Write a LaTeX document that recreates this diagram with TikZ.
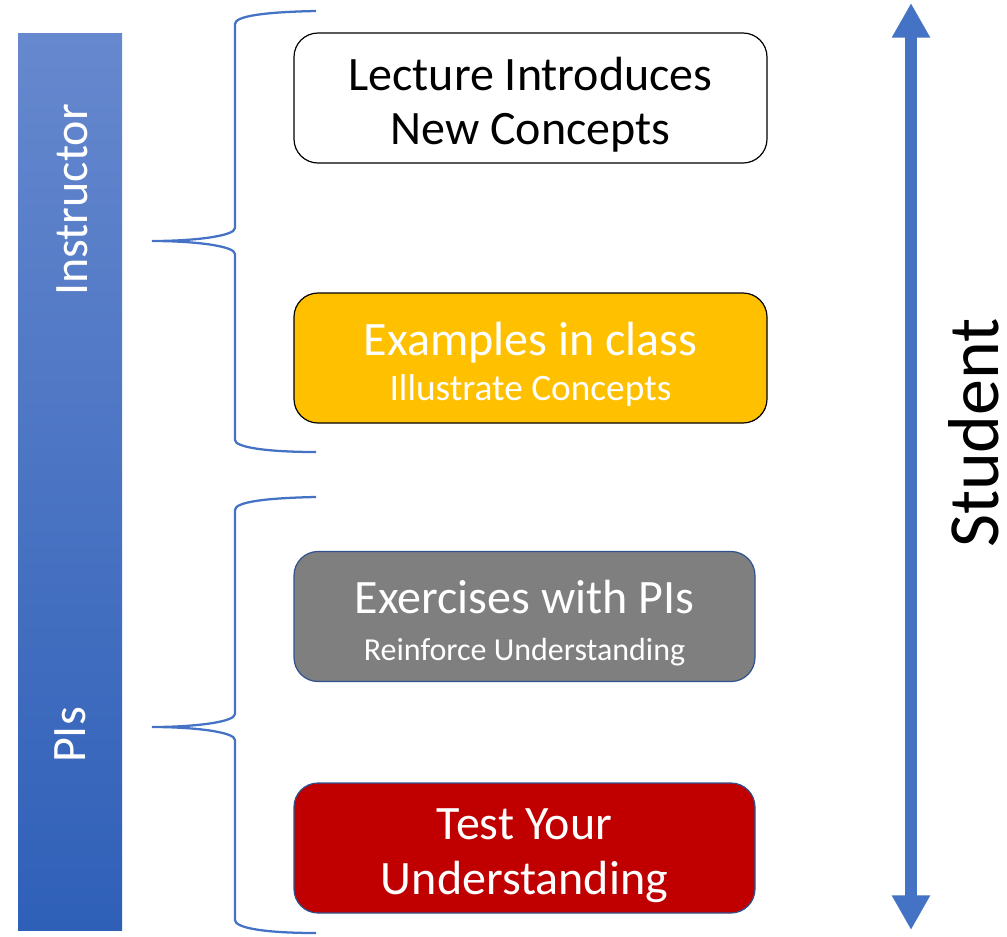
\documentclass[tikz,border=0pt]{standalone}
\usepackage{fontspec}
\setmainfont{Carlito}
\usetikzlibrary{arrows.meta}
\definecolor{barTop}{RGB}{102,136,206}
\definecolor{barBot}{RGB}{47,96,184}
\definecolor{braceBlue}{RGB}{68,114,196}
\definecolor{boxYellow}{RGB}{255,192,0}
\definecolor{boxGray}{RGB}{127,127,127}
\definecolor{boxRed}{RGB}{192,0,0}
\definecolor{boxEdge}{RGB}{47,82,143}
\newcommand{\topstrut}{\rule{0pt}{35pt}}
\begin{document}
\begin{tikzpicture}[x=0.75pt,y=-0.75pt]
	\tikzset{box/.style = {draw, rounded corners=18pt, line width=0.9pt, minimum width=354.75pt, minimum height=97.5pt, align=center, inner sep=0pt}}
	\tikzset{bigtxt/.style = {font=\fontsize{36}{41}\selectfont}}
	\tikzset{brace/.style = {draw=braceBlue, line width=1.7pt}}
	\useasboundingbox (0,0) rectangle (1007,936);
	% left bar
	\node[top color=barTop, bottom color=barBot, minimum width=78pt, minimum height=672.75pt, inner sep=0pt] (bar) at (70,481.5) {};
	\node[rotate=90, white, inner sep=0pt, font=\fontsize{36}{40}\selectfont] (instr) at (72,200) {Instructor};
	\node[rotate=90, white, inner sep=0pt, font=\fontsize{36}{40}\selectfont] (pis) at (70,735) {PIs};
	% braces
	\path[brace] (316,11) .. controls (265,12) and (235,16) .. (235,24) -- (235,228) .. controls (235,236) and (195,241) .. (152,241) .. controls (195,241) and (235,246) .. (235,254) -- (235,440) .. controls (235,447) and (265,452) .. (316,452);
	\path[brace] (316,497) .. controls (265,498) and (235,502) .. (235,510) -- (235,714) .. controls (235,722) and (195,727) .. (152,727) .. controls (195,727) and (235,732) .. (235,740) -- (235,920) .. controls (235,928) and (265,933) .. (316,933);
	% boxes
	\node[box, fill=white, bigtxt] (lect) at (530.5,98) {\topstrut Lecture Introduces\\New Concepts};
	\node[box, fill=boxYellow, text=white, font=\fontsize{28}{34}\selectfont] (examp) at (530.5,358) {{\fontsize{36}{41}\selectfont\topstrut Examples in class}\\Illustrate Concepts};
	\node[box, draw=boxEdge, fill=boxGray, text=white, minimum width=345.75pt, font=\fontsize{24}{35}\selectfont] (exer) at (524.5,616.5) {{\fontsize{36}{41}\selectfont\topstrut Exercises with PIs}\\Reinforce Understanding};
	\node[box, draw=boxEdge, fill=boxRed, text=white, bigtxt, minimum width=345.75pt] (test) at (524.5,848) {\topstrut Test Your\\Understanding};
	% student arrow
	\coordinate (atop) at (911,3);
	\coordinate (abot) at (911,930);
	\draw[line width=9pt, braceBlue, {Triangle[width=27pt,length=26pt]}-{Triangle[width=27pt,length=26pt]}] (atop) -- (abot);
	\node[rotate=90, inner sep=0pt, font=\fontsize{54}{60}\selectfont] (stud) at (974,433) {Student};
\end{tikzpicture}
\end{document}
